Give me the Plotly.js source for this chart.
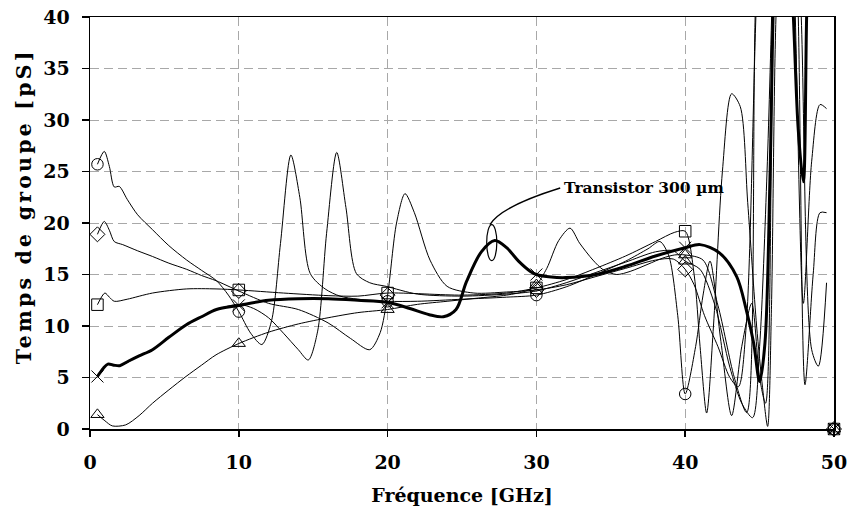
<!DOCTYPE html>
<html>
<head>
<meta charset="utf-8">
<script src="https://cdn.plot.ly/plotly-3.0.1.min.js"></script>
<style>
  body { margin: 0; background: #fff; }
  #chart { width: 851px; height: 511px; }
  g.annotation[data-index="1"] text { letter-spacing: 3.2px; }
</style>
</head>
<body>
<div id="chart"></div>
<script>
// ---- data (frequency in GHz, group delay in pS) ----
const markerFreqs = [0.5, 10, 20, 30, 40, 50];

const thickX = [0.5, 0.9, 1.2, 1.6, 2.0, 2.6, 3.3, 4.2, 5.3, 6.45, 7.5, 8.5, 10, 12, 14, 16, 18, 20, 21.5, 22.8, 23.75, 24.6, 25.3, 26.3, 27.2, 28.0, 28.8, 29.6, 30, 31, 32, 34, 36, 38, 40, 41, 42.3, 43.46, 44.1, 44.6, 45.0, 45.36, 45.7, 46.0, 46.6, 47.27, 47.6, 47.94, 48.16, 48.5, 49.0, null, 50];
const thickY = [5.1, 5.9, 6.3, 6.2, 6.15, 6.6, 7.1, 7.7, 8.9, 10.1, 10.9, 11.6, 12.0, 12.5, 12.65, 12.65, 12.5, 12.3, 11.7, 11.1, 10.9, 11.6, 14.3, 17.2, 18.3, 17.6, 16.3, 15.3, 15.0, 14.75, 14.7, 15.0, 15.8, 16.8, 17.6, 17.9, 17.1, 14.8, 11.6, 8.35, 4.6, 8.35, 24.5, 45, 60, 40, 29, 24.0, 40, 60, 80, null, 0];

const circleX = [0.5, 0.96, 1.3, 1.63, 1.97, 2.5, 3.2, 4.2, 5.3, 6.5, 7.5, 8.5, 9.3, 10, 10.8, 11.55, 12.2, 12.8, 13.5, 14.1, 14.8, 15.8, 16.8, 18, 20, 22, 25, 28, 30, 32, 34, 36, 37.5, 38.3, 38.9, 39.5, 40, 40.7, 41.2, 41.67, 42.4, 43.12, 43.8, 44.47, 45.0, 45.4, 45.9, 46.5, 47.3, 47.94, 48.5, 49.06, 49.5, null, 50];
const circleY = [25.7, 26.95, 25.5, 23.5, 23.55, 22.3, 20.8, 19.35, 17.8, 16.4, 15.4, 14.4, 13.0, 11.4, 9.3, 8.2, 10.5, 18, 26.6, 22.5, 15.1, 13.6, 12.9, 12.6, 12.4, 12.4, 12.6, 12.8, 13.0, 13.8, 15.0, 16.3, 17.5, 18.2, 16.8, 11, 3.4, 8, 13, 16.3, 8.5, 1.3, 8, 12.2, 5, 2.5, 40, 70, 45, 12.2, 26, 31.5, 31.1, null, 0];

const diamondX = [0.5, 0.96, 1.3, 1.63, 2.2, 3.2, 4.2, 5.3, 6.5, 7.5, 8.47, 10, 12, 14, 16, 17.5, 18.8, 19.5, 20, 20.6, 21.17, 21.8, 22.85, 24, 25.8, 28, 30, 32, 34, 36, 38, 39.2, 40, 40.6, 41.3, 42.2, 43.0, 43.57, 44.1, 44.75, 45.5, 47, 47.8, 48.5, 48.95, 49.5, null, 50];
const diamondY = [18.9, 20.15, 19.3, 18.2, 17.9, 17.3, 16.75, 16.1, 15.5, 14.9, 14.4, 13.4, 12.2, 11.6, 10.3, 8.8, 7.7, 9.35, 13.0, 20, 22.85, 21, 16.4, 13.85, 13.2, 13.3, 13.5, 14.0, 14.8, 15.6, 16.4, 16.5, 15.5, 14, 11, 8, 5, 4.1, 10, 40, 70, 70, 40, 7.7, 6.1, 14.2, null, 0];

const squareX = [0.5, 1.0, 1.3, 1.63, 2.5, 4.2, 6.5, 8.47, 10, 13, 16, 18, 20, 25, 28, 30, 32, 34, 36, 38, 39.3, 40, 40.6, 41.0, 41.44, 41.9, 42.5, 43.12, 43.7, 44.2, 44.8, 45.2, 45.54, 45.8, 46.1, 47, 47.6, 48.05, 48.6, 49.06, 49.5, null, 50];
const squareY = [12.07, 13.2, 12.8, 12.4, 12.6, 13.2, 13.6, 13.6, 13.5, 13.2, 12.95, 12.9, 13.2, 13.0, 13.2, 13.7, 14.5, 15.6, 16.8, 18.2, 19.1, 19.2, 15, 8, 1.55, 10, 25, 32.55, 31.3, 22, 10, 4, 0.25, 12, 40, 70, 40, 4.3, 15, 21.0, 21.0, null, 0];

const triangleX = [0.5, 1.0, 1.5, 2.4, 3.3, 4.2, 5.3, 6.45, 7.5, 8.47, 10, 12, 14, 16, 18, 20, 22, 24, 26, 28, 29.3, 30, 30.7, 31.5, 32.26, 32.9, 33.8, 34.5, 35.4, 36.3, 37.5, 38.5, 39.3, 40, 41.2, 42.2, 43.3, 44.13, 44.7, 45.5, 47, 49.5, null, 50];
const triangleY = [1.4, 0.8, 0.3, 0.4, 1.3, 2.5, 3.8, 5.1, 6.2, 7.2, 8.3, 9.4, 10.2, 10.8, 11.3, 11.6, 12.1, 12.4, 12.7, 13.0, 13.4, 14.0, 15.6, 18.3, 19.5, 18.05, 16.4, 15.45, 15.0, 15.3, 16.0, 16.6, 16.9, 16.9, 16.4, 12, 5, 1.6, 40, 80, 80, 80, null, 0];

const thinX = [0.5, 1.2, 2.0, 3.3, 4.2, 5.3, 6.45, 7.5, 8.5, 10, 11, 12, 13, 14, 14.67, 15.3, 15.9, 16.58, 17.2, 17.9, 18.8, 19.9, 22, 25, 28, 30, 32, 34, 36, 38, 39.2, 40, 41, 42, 43, 43.8, 44.53, 45.0, 45.5, 45.9, 46.5, 49.5];
const thinY = [5.1, 6.3, 6.15, 7.1, 7.7, 8.9, 10.1, 10.9, 11.6, 12.1, 11.7, 10.8, 9.3, 7.7, 6.7, 9.5, 19, 26.85, 21.5, 15.1, 14.2, 13.85, 13.1, 12.9, 13.1, 13.4, 14.2, 15.2, 16.2, 17.2, 17.3, 16.3, 15.5, 12, 6, 2.5, 1.1, 8, 25, 45, 80, 80];
const thinMarkX = [40];
const thinMarkY = [16.3];

const labelText = 'Transistor 300 µm';
const xTitle = 'Fréquence [GHz]';
const yTitle = 'Temps de groupe [pS]';

// ---- helpers ----
function marks(xs, ys) {
  const mx = [], my = [];
  xs.forEach((x, i) => {
    if (x !== null && markerFreqs.includes(x)) { mx.push(x); my.push(ys[i]); }
  });
  return {mx, my};
}

const serif = 'DejaVu Serif, Liberation Serif, serif';
const series = [
  {x: circleX, y: circleY, sym: 'circle-open'},
  {x: diamondX, y: diamondY, sym: 'diamond-open'},
  {x: squareX, y: squareY, sym: 'square-open'},
  {x: triangleX, y: triangleY, sym: 'triangle-up-open'},
];

const traces = [];
series.forEach(s => {
  traces.push({x: s.x, y: s.y, mode: 'lines', connectgaps: false,
    line: {color: '#000', width: 1, shape: 'spline', smoothing: 0.8}, hoverinfo: 'skip'});
});
traces.push({x: thinX, y: thinY, mode: 'lines',
  line: {color: '#000', width: 1, shape: 'spline', smoothing: 0.8}, hoverinfo: 'skip'});
traces.push({x: thickX, y: thickY, mode: 'lines', connectgaps: false,
  line: {color: '#000', width: 3, shape: 'spline', smoothing: 0.9}, hoverinfo: 'skip'});

series.forEach(s => {
  const m = marks(s.x, s.y);
  traces.push({x: m.mx, y: m.my, mode: 'markers', cliponaxis: false,
    marker: {symbol: s.sym, size: 11.5, color: '#000', line: {color: '#000', width: 1}}});
});
{
  const m = marks(thickX, thickY);
  traces.push({x: m.mx, y: m.my, mode: 'markers', cliponaxis: false,
    marker: {symbol: 'x-thin-open', size: 12, color: '#000', line: {color: '#000', width: 1}}});
}
traces.push({x: thinMarkX, y: thinMarkY, mode: 'markers', cliponaxis: false,
  marker: {symbol: 'triangle-up-open', size: 11.5, color: '#000', line: {color: '#000', width: 1}}});

const tickFont = {family: serif, size: 19, color: '#000', weight: 'bold'};

const layout = {
  width: 851, height: 511,
  margin: {l: 90, r: 17, t: 17, b: 82},
  paper_bgcolor: '#fff', plot_bgcolor: '#fff',
  showlegend: false,
  xaxis: {
    range: [0, 50], tick0: 0, dtick: 10, zeroline: false,
    showgrid: true, gridcolor: '#a8a8a8', gridwidth: 1, griddash: '9px,5px',
    showline: true, linecolor: '#000', linewidth: 1.5, mirror: true,
    ticks: 'outside', ticklen: 6, tickwidth: 1.5, tickcolor: '#000',
    tickfont: tickFont, ticklabelstandoff: 10,
    title: {text: xTitle, font: {family: serif, size: 19, color: '#000', weight: 'bold'}, standoff: 16},
    automargin: false
  },
  yaxis: {
    range: [0, 40], tick0: 0, dtick: 5, zeroline: false,
    showgrid: true, gridcolor: '#a8a8a8', gridwidth: 1, griddash: '9px,5px',
    showline: true, linecolor: '#000', linewidth: 1.5, mirror: true,
    ticks: 'outside', ticklen: 7, tickwidth: 1.5, tickcolor: '#000',
    tickfont: tickFont, ticklabelstandoff: 8,
    automargin: false
  },
  shapes: [
    {type: 'circle', xref: 'x', yref: 'y', x0: 26.66, x1: 27.34, y0: 16.35, y1: 19.85,
     line: {color: '#000', width: 1.2}},
    {type: 'path', xref: 'x', yref: 'y', path: 'M 26.88,19.84 Q 27.6,21.6 31.6,23.4',
     line: {color: '#000', width: 1.5}}
  ],
  annotations: [
    {x: 31.75, y: 23.4, xref: 'x', yref: 'y', text: labelText, showarrow: false,
     xanchor: 'left', yanchor: 'middle',
     font: {family: serif, size: 15.5, color: '#000', weight: 'bold'}},
    {x: -0.089, y: 0.54, xref: 'paper', yref: 'paper', text: yTitle, showarrow: false,
     textangle: -90, xanchor: 'center', yanchor: 'middle',
     font: {family: serif, size: 20.5, color: '#000', weight: 'bold'}}
  ]
};

Plotly.newPlot('chart', traces, layout, {staticPlot: true, displayModeBar: false});
</script>
</body>
</html>
